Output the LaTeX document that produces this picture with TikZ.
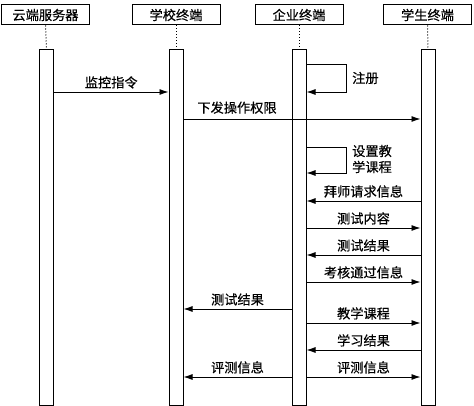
\documentclass[tikz,border=0pt]{standalone}
\usepackage{fontspec}
\setmainfont[FakeBold=0.4]{Noto Sans CJK SC}
\usetikzlibrary{arrows.meta}
\begin{document}
\begin{tikzpicture}[x=1pt,y=-1pt,
  every node/.style={font=\fontsize{13.2}{15}\selectfont},
  header/.style={draw,line width=1pt,minimum width=88pt,minimum height=20pt,inner sep=0pt},
  act/.style={draw,line width=1pt,fill=white,minimum width=14pt,minimum height=355pt,inner sep=0pt},
  life/.style={line width=1pt,dotted},
  msg/.style={line width=0.9pt,-{Latex[length=9pt,width=6pt]}},
  lbl/.style={inner sep=1pt,above=2pt}]
\useasboundingbox (0,0) rectangle (474,406);
% headers
\node[header] (h1) at (45.5,15) {云端服务器};
\node[header] (h2) at (176,15) {学校终端};
\node[header] (h3) at (299,15) {企业终端};
\node[header] (h4) at (427.5,15) {学生终端};
% activation bars
\node[act] (a1) at (46.5,227.5) {};
\node[act] (a2) at (176,227.5) {};
\node[act] (a3) at (299,227.5) {};
\node[act] (a4) at (428,227.5) {};
% lifelines
\foreach \i in {1,2,3,4} \draw[life] (h\i.south) -- (a\i.north);
% self message: 注册
\coordinate (r1) at (346,64);
\coordinate (r2) at (346,92);
\draw[msg] (a3.east |- r1) -- (r1) -- (r2) -- (a3.east |- r2);
\node[anchor=west,inner sep=0pt] (t1) at (352,78) {注册};
% 监控指令
\draw[msg] (a1.east |- 0,92) -- node[lbl] (t2) {监控指令} (a2.west |- 0,92);
% 下发操作权限
\draw[msg] (a2.east |- 0,119) -- (a4.west |- 0,119);
\node[inner sep=1pt,anchor=south] (t3) at (237,115) {下发操作权限};
% self message: 设置教学课程
\coordinate (s1) at (346,147);
\coordinate (s2) at (346,173);
\draw[msg] (a3.east |- s1) -- (s1) -- (s2) -- (a3.east |- s2);
\node[anchor=west,inner sep=0pt,align=left,font=\fontsize{13.2}{16}\selectfont] (t4) at (352,159) {设置教\\学课程};
% right side messages
\draw[msg] (a4.west |- 0,201) -- node[lbl] (t5) {拜师请求信息} (a3.east |- 0,201);
\draw[msg] (a3.east |- 0,228) -- node[lbl] (t6) {测试内容} (a4.west |- 0,228);
\draw[msg] (a4.west |- 0,255) -- node[lbl] (t7) {测试结果} (a3.east |- 0,255);
\draw[msg] (a3.east |- 0,282) -- node[lbl] (t8) {考核通过信息} (a4.west |- 0,282);
% left 测试结果
\draw[msg] (a3.west |- 0,309) -- node[lbl] (t9) {测试结果} (a2.east |- 0,309);
\draw[msg] (a3.east |- 0,323) -- node[lbl] (t10) {教学课程} (a4.west |- 0,323);
\draw[msg] (a4.west |- 0,350) -- node[lbl] (t11) {学习结果} (a3.east |- 0,350);
\draw[msg] (a3.west |- 0,377) -- node[lbl] (t12) {评测信息} (a2.east |- 0,377);
\draw[msg] (a3.east |- 0,377) -- node[lbl] (t13) {评测信息} (a4.west |- 0,377);
\end{tikzpicture}
\end{document}
